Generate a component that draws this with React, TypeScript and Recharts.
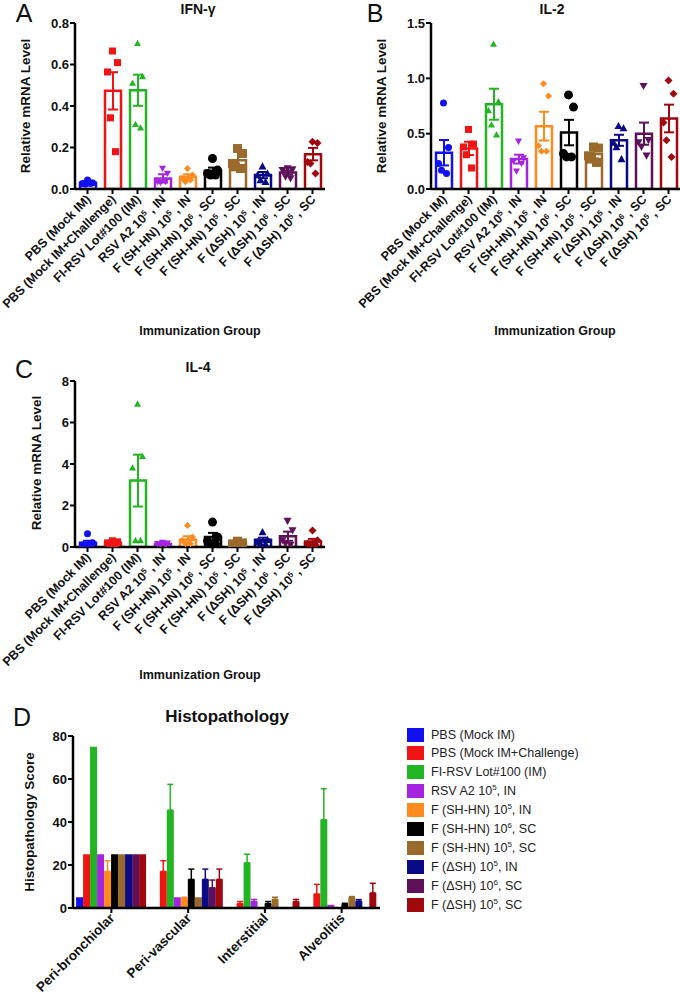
import React from "react";
import { Bar, BarChart, ComposedChart, ErrorBar, Scatter, XAxis, YAxis } from "recharts";

const groups = [
  "PBS (Mock IM)",
  "PBS (Mock IM+Challenge)",
  "FI-RSV Lot#100 (IM)",
  "RSV A2 10^5 , IN",
  "F (SH-HN) 10^5 , IN",
  "F (SH-HN) 10^6 , SC",
  "F (SH-HN) 10^5 , SC",
  "F (ΔSH) 10^5 , IN",
  "F (ΔSH) 10^6 , SC",
  "F (ΔSH) 10^5 , SC",
];
const legendLabels = [
  "PBS (Mock IM)",
  "PBS (Mock IM+Challenge)",
  "FI-RSV Lot#100 (IM)",
  "RSV A2 10^5, IN",
  "F (SH-HN) 10^5, IN",
  "F (SH-HN) 10^6, SC",
  "F (SH-HN) 10^5, SC",
  "F (ΔSH) 10^5, IN",
  "F (ΔSH) 10^6, SC",
  "F (ΔSH) 10^5, SC",
];
const groupColors = ["#1010f0", "#f01414", "#22b422", "#a424e0", "#ff8a1e", "#000000", "#9a6a2c", "#0a0a86", "#5e1058", "#a0080e"];
const markers = ["circle", "square", "triangle", "down", "diamond", "circle", "square", "triangle", "down", "diamond"];
const markerSizes = [7, 7, 7, 7, 7, 9, 9, 8, 8, 8];

// IFN-gamma
const ifngMean = [0.03, 0.473, 0.476, 0.051, 0.059, 0.088, 0.139, 0.067, 0.079, 0.168];
const ifngSem = [0.005, 0.09, 0.075, 0.02, 0.012, 0.015, 0.04, 0.015, 0.01, 0.03];
const ifngPoints = [
  [0.043, 0.03, 0.027, 0.024, 0.026],
  [0.665, 0.609, 0.564, 0.343, 0.18],
  [0.703, 0.543, 0.511, 0.312, 0.295],
  [0.099, 0.075, 0.035, 0.03, 0.035],
  [0.099, 0.067, 0.051, 0.035, 0.043],
  [0.147, 0.091, 0.075, 0.067, 0.067],
  [0.195, 0.171, 0.123, 0.107, 0.099],
  [0.11, 0.075, 0.067, 0.043, 0.035],
  [0.099, 0.094, 0.091, 0.059, 0.051],
  [0.228, 0.222, 0.13, 0.123, 0.075],
];

// IL-2
const il2Mean = [0.328, 0.367, 0.766, 0.27, 0.568, 0.51, 0.316, 0.44, 0.5, 0.637];
const il2Sem = [0.115, 0.06, 0.14, 0.04, 0.13, 0.115, 0.04, 0.05, 0.1, 0.125];
const il2Points = [
  [0.778, 0.376, 0.23, 0.17, 0.14],
  [0.538, 0.406, 0.38, 0.31, 0.19],
  [1.31, 0.79, 0.71, 0.58, 0.49],
  [0.43, 0.28, 0.25, 0.16, 0.23],
  [0.95, 0.84, 0.39, 0.34, 0.34],
  [0.85, 0.74, 0.32, 0.29, 0.29],
  [0.38, 0.37, 0.3, 0.27, 0.24],
  [0.57, 0.55, 0.42, 0.38, 0.27],
  [0.93, 0.44, 0.42, 0.38, 0.3],
  [0.98, 0.86, 0.6, 0.44, 0.29],
];

// IL-4
const il4Mean = [0.2, 0.2, 3.2, 0.15, 0.35, 0.48, 0.18, 0.35, 0.52, 0.27];
const il4Sem = [0.1, 0.05, 1.25, 0.03, 0.17, 0.2, 0.05, 0.1, 0.22, 0.12];
const il4Points = [
  [0.64, 0.2, 0.1, 0.08, 0.05],
  [0.3, 0.25, 0.2, 0.15, 0.1],
  [6.9, 4.37, 3.82, 0.32, 0.32],
  [0.22, 0.18, 0.15, 0.1, 0.08],
  [1.04, 0.48, 0.32, 0.16, 0.16],
  [1.2, 0.48, 0.3, 0.15, 0.15],
  [0.28, 0.2, 0.15, 0.12, 0.1],
  [0.72, 0.35, 0.25, 0.16, 0.16],
  [1.25, 0.8, 0.32, 0.16, 0.1],
  [0.8, 0.32, 0.16, 0.1, 0.1],
];

// Histopathology, one row per group: [peri-bronchiolar, peri-vascular, interstitial, alveolitis]
const histoCategories = ["Peri-bronchiolar", "Peri-vascular", "Interstitial", "Alveolitis"];
const histoScores = [
  [5, 0.5, 0, 0],
  [25, 17, 2, 6.5],
  [75, 45.5, 21, 41],
  [25, 5, 3, 1.5],
  [17, 4.5, 0, 0],
  [25, 13.3, 2, 1.7],
  [25, 5, 4, 4.8],
  [25, 13.3, 0, 3.2],
  [25, 9.4, 0, 0],
  [25, 13.3, 3, 7],
];
const histoErrors = [
  [0, 0, 0, 0],
  [0, 5, 1, 4.5],
  [0, 12, 4, 14.5],
  [0, 0, 1, 0],
  [5, 0.5, 0, 0],
  [0, 4.8, 1, 0.5],
  [0, 0, 1, 0.5],
  [0, 4.8, 0, 0.7],
  [0, 3.6, 0, 0],
  [0, 4.8, 1, 4.5],
];

const FONT = "'Liberation Sans', Arial, Helvetica, sans-serif";
const JITTER = [0, 5, -5, -2, 3];
const axisStyle = { stroke: "#000", strokeWidth: 2.5 };
const tickStyle = { stroke: "#000", strokeWidth: 2 };

function svgSup(label: string, supSize: number) {
  const parts = label.split(/\^(\d+)/);
  return parts.map((p, i) =>
    i % 2 === 1 ? (
      <tspan key={i} fontSize={supSize} dy={-4}>
        {p}
      </tspan>
    ) : (
      <tspan key={i} dy={i > 0 ? 4 : 0}>
        {p}
      </tspan>
    )
  );
}

function htmlSup(label: string) {
  const parts = label.split(/\^(\d+)/);
  return parts.map((p, i) =>
    i % 2 === 1 ? (
      <sup key={i} style={{ fontSize: 8, lineHeight: 0 }}>
        {p}
      </sup>
    ) : (
      <span key={i}>{p}</span>
    )
  );
}

function RotTick(props: any) {
  const { x, y, payload, size } = props;
  return (
    <g transform={`translate(${x + 4},${y + 6}) rotate(-45)`}>
      <text textAnchor="end" fontSize={size} fontWeight="bold" fill="#111" fontFamily={FONT}>
        {svgSup(String(payload.value), 8)}
      </text>
    </g>
  );
}

function Marker({ cx, cy, g }: { cx: number; cy: number; g: number }) {
  const color = groupColors[g];
  const s = markerSizes[g];
  const h = s / 2;
  switch (markers[g]) {
    case "circle":
      return <circle cx={cx} cy={cy} r={h} fill={color} />;
    case "square":
      return <rect x={cx - h} y={cy - h} width={s} height={s} fill={color} />;
    case "triangle":
      return <polygon points={`${cx},${cy - h} ${cx + h},${cy + h * 0.8} ${cx - h},${cy + h * 0.8}`} fill={color} />;
    case "down":
      return <polygon points={`${cx - h},${cy - h * 0.8} ${cx + h},${cy - h * 0.8} ${cx},${cy + h}`} fill={color} />;
    default:
      return <polygon points={`${cx},${cy - h} ${cx + h},${cy} ${cx},${cy + h} ${cx - h},${cy}`} fill={color} />;
  }
}

function DotPanel(props: {
  left: number;
  top: number;
  width: number;
  marginLeft: number;
  means: number[];
  sems: number[];
  points: number[][];
  domain: [number, number];
  ticks: number[];
  digits: number;
}) {
  const { left, top, width, marginLeft, means, sems, points, domain, ticks, digits } = props;
  const data = groups.map((name, g) => {
    const row: any = { name, g };
    row[`m${g}`] = means[g];
    row[`e${g}`] = sems[g];
    points[g].forEach((v, r) => (row[`p${r}`] = v));
    return row;
  });
  return (
    <div style={{ position: "absolute", left, top }}>
      <ComposedChart
        width={width}
        height={345}
        data={data}
        margin={{ top: 23, right: width - marginLeft - 75 - 250, left: marginLeft, bottom: 0 }}
      >
        <XAxis
          dataKey="name"
          interval={0}
          height={156}
          tickSize={5}
          tickMargin={0}
          axisLine={axisStyle}
          tickLine={tickStyle}
          tick={<RotTick size={12.5} />}
        />
        <YAxis
          width={75}
          domain={domain}
          ticks={ticks}
          allowDataOverflow
          interval={0}
          tickSize={5}
          tickMargin={1}
          axisLine={axisStyle}
          tickLine={tickStyle}
          tickFormatter={(v: number) => v.toFixed(digits)}
          tick={{ fill: "#111", fontSize: 13, fontWeight: "bold", fontFamily: FONT }}
        />
        {groups.map((_, g) => (
          <Bar
            key={g}
            dataKey={`m${g}`}
            stackId="s"
            barSize={16}
            fill="none"
            stroke={groupColors[g]}
            strokeWidth={2.5}
            isAnimationActive={false}
          >
            <ErrorBar dataKey={`e${g}`} width={5} stroke={groupColors[g]} strokeWidth={2} />
          </Bar>
        ))}
        {JITTER.map((dx, r) => (
          <Scatter
            key={r}
            dataKey={`p${r}`}
            isAnimationActive={false}
            shape={(p: any) => <Marker cx={p.cx + dx} cy={p.cy} g={p.payload.g} />}
          />
        ))}
      </ComposedChart>
    </div>
  );
}

function HistoPanel() {
  const data = histoCategories.map((cat, c) => {
    const row: any = { cat };
    groups.forEach((_, g) => {
      row[`v${g}`] = histoScores[g][c];
      row[`e${g}`] = histoErrors[g][c] > 0 ? [0, histoErrors[g][c]] : null;
    });
    return row;
  });
  return (
    <div style={{ position: "absolute", left: 0, top: 700 }}>
      <BarChart
        width={400}
        height={300}
        data={data}
        margin={{ top: 36, right: 20, left: 0, bottom: 0 }}
        barCategoryGap="4%"
        barGap={0}
      >
        <XAxis
          dataKey="cat"
          interval={0}
          height={92}
          tickSize={5}
          tickMargin={0}
          axisLine={axisStyle}
          tickLine={tickStyle}
          tick={<RotTick size={13.5} />}
        />
        <YAxis
          width={73}
          domain={[0, 80]}
          ticks={[0, 20, 40, 60, 80]}
          interval={0}
          tickSize={5}
          tickMargin={1}
          axisLine={axisStyle}
          tickLine={tickStyle}
          tick={{ fill: "#111", fontSize: 13, fontWeight: "bold", fontFamily: FONT }}
        />
        {groups.map((_, g) => (
          <Bar key={g} dataKey={`v${g}`} fill={groupColors[g]} isAnimationActive={false}>
            <ErrorBar dataKey={`e${g}`} width={3} stroke={groupColors[g]} strokeWidth={1.5} />
          </Bar>
        ))}
      </BarChart>
    </div>
  );
}

function Text(props: { x: number; y: number; size: number; bold?: boolean; rotate?: boolean; children: React.ReactNode }) {
  const { x, y, size, bold, rotate, children } = props;
  return (
    <div
      style={{
        position: "absolute",
        left: x,
        top: y,
        transform: `translate(-50%, -50%)${rotate ? " rotate(-90deg)" : ""}`,
        whiteSpace: "nowrap",
        fontFamily: FONT,
        fontSize: size,
        fontWeight: bold ? "bold" : "normal",
        lineHeight: 1,
        color: "#111",
      }}
    >
      {children}
    </div>
  );
}

export default function App() {
  return (
    <div style={{ position: "absolute", left: 0, top: 0, width: 680, height: 996, background: "#fff", overflow: "hidden" }}>
      <DotPanel left={0} top={0} width={340} marginLeft={0} means={ifngMean} sems={ifngSem} points={ifngPoints} domain={[0, 0.8]} ticks={[0, 0.2, 0.4, 0.6, 0.8]} digits={1} />
      <DotPanel left={340} top={0} width={340} marginLeft={16} means={il2Mean} sems={il2Sem} points={il2Points} domain={[0, 1.5]} ticks={[0, 0.5, 1, 1.5]} digits={1} />
      <DotPanel left={0} top={358} width={340} marginLeft={0} means={il4Mean} sems={il4Sem} points={il4Points} domain={[0, 8]} ticks={[0, 2, 4, 6, 8]} digits={0} />
      <HistoPanel />

      <Text x={24} y={13} size={25}>A</Text>
      <Text x={375} y={13} size={25}>B</Text>
      <Text x={24} y={369} size={25}>C</Text>
      <Text x={22} y={717} size={25}>D</Text>

      <Text x={198} y={9} size={14} bold>IFN-γ</Text>
      <Text x={552} y={9} size={14} bold>IL-2</Text>
      <Text x={198} y={367} size={14} bold>IL-4</Text>
      <Text x={227} y={716} size={17} bold>Histopathology</Text>

      <Text x={26} y={106} size={13.5} bold rotate>Relative mRNA Level</Text>
      <Text x={382} y={106} size={13.5} bold rotate>Relative mRNA Level</Text>
      <Text x={37} y={463} size={13.5} bold rotate>Relative mRNA Level</Text>
      <Text x={30} y={822} size={13.5} bold rotate>Histopathology Score</Text>

      <Text x={200} y={331} size={12.5} bold>Immunization Group</Text>
      <Text x={555} y={331} size={12.5} bold>Immunization Group</Text>
      <Text x={200} y={675} size={12.5} bold>Immunization Group</Text>

      {legendLabels.map((label, g) => (
        <div
          key={g}
          style={{
            position: "absolute",
            left: 407,
            top: 734.5 + g * 18.9 - 8,
            height: 16,
            display: "flex",
            alignItems: "center",
            fontFamily: FONT,
            fontSize: 12.5,
            color: "#222",
            whiteSpace: "nowrap",
          }}
        >
          <div style={{ width: 17, height: 14, background: groupColors[g], marginRight: 7 }} />
          <div>{htmlSup(label)}</div>
        </div>
      ))}
    </div>
  );
}
